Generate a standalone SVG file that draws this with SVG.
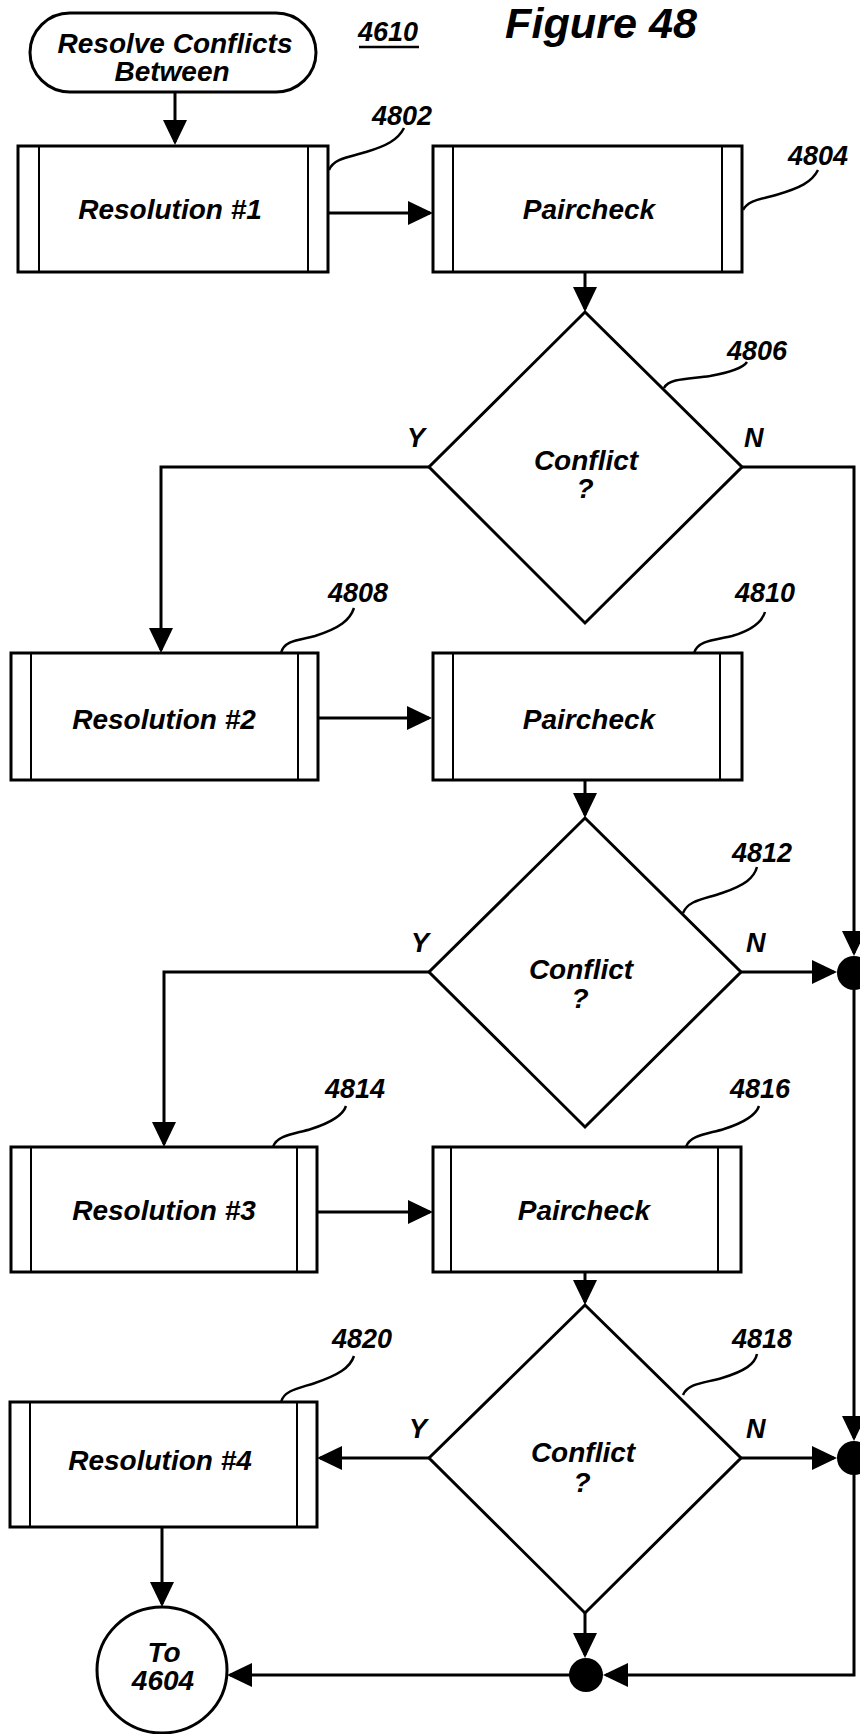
<svg xmlns="http://www.w3.org/2000/svg" width="860" height="1734" viewBox="0 0 860 1734">
<style>
  .shape { fill: #fff; stroke: #000; stroke-width: 3; }
  .bar { fill: none; stroke: #000; stroke-width: 2; }
  .conn { fill: none; stroke: #000; stroke-width: 3; marker-end: url(#ah); }
  .leader { fill: none; stroke: #000; stroke-width: 2.5; }
  .lbl { font-family: "Liberation Sans", Arial, sans-serif; font-weight: bold; font-style: italic; font-size: 28px; fill: #000; text-anchor: middle; }
  .num { font-family: "Liberation Sans", Arial, sans-serif; font-weight: bold; font-style: italic; font-size: 27px; fill: #000; }
  .fig { font-family: "Liberation Sans", Arial, sans-serif; font-weight: bold; font-style: italic; font-size: 42px; fill: #000; }
  .dot { fill: #000; }
</style>
<defs>
  <marker id="ah" viewBox="0 0 25 24" refX="22" refY="12" markerWidth="25" markerHeight="24" markerUnits="userSpaceOnUse" orient="auto">
    <path d="M0,0 L25,12 L0,24 Z" fill="#000"/>
  </marker>
</defs>
<rect width="860" height="1734" fill="#fff"/>

<g id="title">
  <text class="fig" x="505" y="38" textLength="192" lengthAdjust="spacingAndGlyphs">Figure 48</text>
  <text class="num" x="358" y="41">4610</text>
  <line x1="359" y1="47" x2="419" y2="47" stroke="#000" stroke-width="2.5"/>
</g>

<g id="start">
  <rect class="shape" x="30" y="13" width="286" height="79" rx="40" ry="40"/>
  <text class="lbl" x="175" y="53">Resolve Conflicts</text>
  <text class="lbl" x="172" y="81">Between</text>
</g>

<g id="n4802">
  <rect class="shape" x="18" y="146" width="310" height="126"/>
  <line class="bar" x1="39" y1="146" x2="39" y2="272"/>
  <line class="bar" x1="308" y1="146" x2="308" y2="272"/>
  <text class="lbl" x="170" y="219">Resolution #1</text>
  <path class="leader" d="M329,170 C334,158 350,157 366,152 C386,146 398,140 404,128"/>
  <text class="num" x="372" y="125">4802</text>
</g>

<g id="n4804">
  <rect class="shape" x="433" y="146" width="309" height="126"/>
  <line class="bar" x1="453" y1="146" x2="453" y2="272"/>
  <line class="bar" x1="722" y1="146" x2="722" y2="272"/>
  <text class="lbl" x="589" y="219">Paircheck</text>
  <path class="leader" d="M743,210 C748,200 762,199 776,195 C800,188 812,182 818,170"/>
  <text class="num" x="788" y="165">4804</text>
</g>

<g id="n4806">
  <polygon class="shape" points="585,312 742,467 585,623 429,467"/>
  <text class="lbl" x="586" y="470">Conflict</text>
  <text class="lbl" x="585" y="498">?</text>
  <path class="leader" d="M664,388 C669,378 690,379 710,376 C732,372 743,368 747,362"/>
  <text class="num" x="727" y="360">4806</text>
  <text class="num" x="407" y="447">Y</text>
  <text class="num" x="744" y="447">N</text>
</g>

<g id="n4808">
  <rect class="shape" x="11" y="653" width="307" height="127"/>
  <line class="bar" x1="31" y1="653" x2="31" y2="780"/>
  <line class="bar" x1="298" y1="653" x2="298" y2="780"/>
  <text class="lbl" x="164" y="729">Resolution #2</text>
  <path class="leader" d="M281,653 C284,640 300,640 315,636 C340,628 350,620 354,608"/>
  <text class="num" x="328" y="602">4808</text>
</g>

<g id="n4810">
  <rect class="shape" x="433" y="653" width="309" height="127"/>
  <line class="bar" x1="453" y1="653" x2="453" y2="780"/>
  <line class="bar" x1="720" y1="653" x2="720" y2="780"/>
  <text class="lbl" x="589" y="729">Paircheck</text>
  <path class="leader" d="M694,653 C698,640 716,640 732,636 C752,630 762,622 765,612"/>
  <text class="num" x="735" y="602">4810</text>
</g>

<g id="n4812">
  <polygon class="shape" points="585,818 741,972 585,1127 429,972"/>
  <text class="lbl" x="581" y="979">Conflict</text>
  <text class="lbl" x="580" y="1008">?</text>
  <path class="leader" d="M683,913 C688,900 705,899 722,893 C745,885 754,878 757,867"/>
  <text class="num" x="732" y="862">4812</text>
  <text class="num" x="411" y="952">Y</text>
  <text class="num" x="746" y="952">N</text>
</g>

<g id="n4814">
  <rect class="shape" x="11" y="1147" width="306" height="125"/>
  <line class="bar" x1="31" y1="1147" x2="31" y2="1272"/>
  <line class="bar" x1="297" y1="1147" x2="297" y2="1272"/>
  <text class="lbl" x="164" y="1220">Resolution #3</text>
  <path class="leader" d="M273,1147 C277,1135 295,1134 311,1129 C333,1122 343,1115 346,1106"/>
  <text class="num" x="325" y="1098">4814</text>
</g>

<g id="n4816">
  <rect class="shape" x="433" y="1147" width="308" height="125"/>
  <line class="bar" x1="451" y1="1147" x2="451" y2="1272"/>
  <line class="bar" x1="718" y1="1147" x2="718" y2="1272"/>
  <text class="lbl" x="584" y="1220">Paircheck</text>
  <path class="leader" d="M686,1147 C690,1135 708,1134 724,1129 C746,1122 756,1115 759,1106"/>
  <text class="num" x="730" y="1098">4816</text>
</g>

<g id="n4818">
  <polygon class="shape" points="585,1305 741,1458 585,1613 429,1458"/>
  <text class="lbl" x="583" y="1462">Conflict</text>
  <text class="lbl" x="582" y="1492">?</text>
  <path class="leader" d="M683,1395 C688,1383 705,1383 722,1378 C745,1371 755,1364 757,1354"/>
  <text class="num" x="732" y="1348">4818</text>
  <text class="num" x="409" y="1438">Y</text>
  <text class="num" x="746" y="1438">N</text>
</g>

<g id="n4820">
  <rect class="shape" x="10" y="1402" width="307" height="125"/>
  <line class="bar" x1="30" y1="1402" x2="30" y2="1527"/>
  <line class="bar" x1="297" y1="1402" x2="297" y2="1527"/>
  <text class="lbl" x="160" y="1470">Resolution #4</text>
  <path class="leader" d="M281,1402 C284,1390 300,1388 315,1383 C338,1375 350,1368 354,1356"/>
  <text class="num" x="332" y="1348">4820</text>
</g>

<g id="end">
  <ellipse class="shape" cx="162" cy="1670" rx="65" ry="63"/>
  <text class="lbl" x="164" y="1662">To</text>
  <text class="lbl" x="163" y="1690">4604</text>
</g>

<g id="connectors">
  <path class="conn" d="M175,92 V142"/>
  <path class="conn" d="M328,213 H430"/>
  <path class="conn" d="M585,272 V309"/>
  <path class="conn" d="M429,467 H161 V650"/>
  <path class="conn" d="M742,467 H854 V953"/>
  <path class="conn" d="M318,718 H429"/>
  <path class="conn" d="M585,780 V815"/>
  <path class="conn" d="M429,972 H164 V1144"/>
  <path class="conn" d="M741,972 H834"/>
  <path class="conn" d="M854,973 V1438"/>
  <path class="conn" d="M317,1212 H430"/>
  <path class="conn" d="M585,1272 V1302"/>
  <path class="conn" d="M429,1458 H320"/>
  <path class="conn" d="M741,1458 H834"/>
  <path class="conn" d="M854,1458 V1675 H606"/>
  <path class="conn" d="M585,1613 V1655"/>
  <path class="conn" d="M586,1675 H230"/>
  <path class="conn" d="M162,1527 V1604"/>
  <circle class="dot" cx="854" cy="973" r="17"/>
  <circle class="dot" cx="854" cy="1458" r="17"/>
  <circle class="dot" cx="586" cy="1675" r="17"/>
</g>
</svg>
